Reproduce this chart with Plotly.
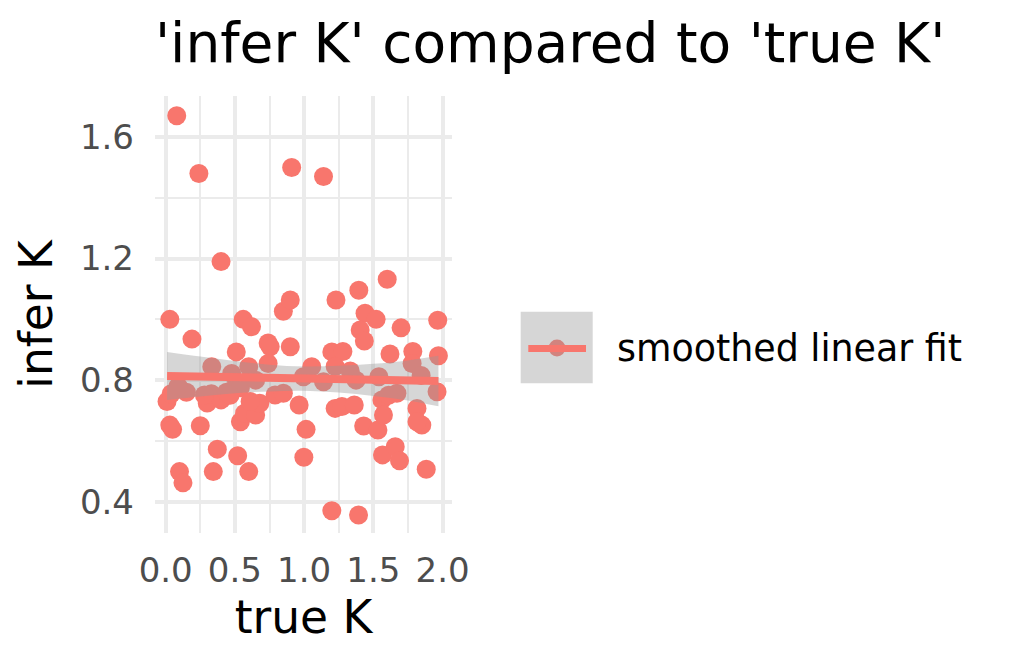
import plotly.graph_objects as go

# ---- data ----
true_k = [0.08, 0.24, 0.91, 1.14, 0.40, 0.03, 0.19, 0.56, 0.62, 0.85,
          0.90, 0.51, 0.74, 0.755, 0.90, 0.74, 1.23, 1.395, 1.60, 1.44,
          1.52, 1.405, 1.435, 1.70, 1.965, 1.97, 1.62, 1.785, 1.20, 1.28,
          1.055, 0.333, 0.60, 0.477, 1.224, 1.333, 1.78, 1.845, 1.54, 0.995,
          1.14, 1.375, 0.01, 0.04, 0.03, 0.05, 0.10, 0.125, 0.15, 0.09,
          0.25, 0.30, 0.33, 0.40, 0.44, 0.373, 0.344, 0.52, 0.48, 0.54,
          0.54, 0.57, 0.65, 0.60, 0.65, 0.68, 0.79, 0.85, 0.964, 0.998,
          1.014, 1.224, 1.273, 1.20, 1.362, 1.393, 1.43, 1.533, 1.562, 1.573,
          1.566, 1.658, 1.689, 1.67, 1.815, 1.85, 1.815, 1.882, 1.96, 0.61,
          0.465, 1.61, 0.28]
infer_k = [1.67, 1.48, 1.50, 1.47, 1.19, 1.00, 0.935, 1.00, 0.976, 1.027,
           1.064, 0.893, 0.922, 0.91, 0.91, 0.855, 1.064, 1.096, 1.132, 1.02,
           1.00, 0.965, 0.929, 0.972, 0.997, 0.88, 0.886, 0.894, 0.893, 0.894,
           0.844, 0.844, 0.844, 0.822, 0.845, 0.83, 0.855, 0.815, 0.811, 0.811,
           0.795, 0.80, 0.73, 0.755, 0.652, 0.638, 0.499, 0.462, 0.76, 0.78,
           0.65, 0.725, 0.755, 0.735, 0.76, 0.573, 0.499, 0.551, 0.767, 0.775,
           0.663, 0.691, 0.685, 0.499, 0.80, 0.724, 0.751, 0.757, 0.718, 0.546,
           0.638, 0.707, 0.713, 0.370, 0.718, 0.356, 0.649, 0.636, 0.735, 0.685,
           0.554, 0.581, 0.535, 0.757, 0.707, 0.652, 0.663, 0.507, 0.762, 0.73,
           0.75, 0.75, 0.751]

# smoothed linear fit and its confidence band
fit_x = [0.01, 0.25, 0.5, 0.75, 1.0, 1.25, 1.5, 1.75, 1.97]
fit_mean = [0.814, 0.812, 0.810, 0.807, 0.805, 0.803, 0.801, 0.799, 0.797]
fit_lower = [0.735, 0.746, 0.757, 0.763, 0.765, 0.759, 0.748, 0.733, 0.714]
fit_upper = [0.893, 0.878, 0.863, 0.851, 0.845, 0.847, 0.854, 0.865, 0.880]

x_ticks = [0.0, 0.5, 1.0, 1.5, 2.0]
x_labels = ["0.0", "0.5", "1.0", "1.5", "2.0"]
y_ticks = [0.4, 0.8, 1.2, 1.6]
y_labels = ["0.4", "0.8", "1.2", "1.6"]

POINT = "#F8766D"
RIBBON = "rgba(153,153,153,0.4)"
GRID = "#EBEBEB"
FONT = "DejaVu Sans"

W, H = 1009, 665
ML, MR, MT, MB = 155, 557, 96, 132
PW, PH = W - ML - MR, H - MT - MB


def px_x(p):
    return (p - ML) / PW


def px_y(p):
    return (H - MB - p) / PH


fig = go.Figure()
fig.add_trace(go.Scatter(x=true_k, y=infer_k, mode="markers",
                         marker=dict(color=POINT, size=19, line=dict(width=0)),
                         showlegend=False, hoverinfo="x+y"))
fig.add_trace(go.Scatter(x=fit_x, y=fit_upper, mode="lines", line=dict(width=0, shape="spline"),
                         showlegend=False, hoverinfo="skip"))
fig.add_trace(go.Scatter(x=fit_x, y=fit_lower, mode="lines", line=dict(width=0, shape="spline"),
                         fill="tonexty", fillcolor=RIBBON, showlegend=False, hoverinfo="skip"))
fig.add_trace(go.Scatter(x=fit_x, y=fit_mean, mode="lines", line=dict(color=POINT, width=8),
                         name="smoothed linear fit", showlegend=False))

# legend drawn by hand (key box + point + line + label)
shapes = [
    dict(type="circle", xref="paper", yref="paper",
         x0=px_x(548.6), x1=px_x(565.4), y0=px_y(356.4), y1=px_y(339.6),
         fillcolor=POINT, line=dict(width=0), layer="above"),
    dict(type="rect", xref="paper", yref="paper",
         x0=px_x(520.7), x1=px_x(592.7), y0=px_y(383.3), y1=px_y(311.7),
         fillcolor=RIBBON, line=dict(width=0), layer="above"),
    dict(type="line", xref="paper", yref="paper",
         x0=px_x(528.3), x1=px_x(586), y0=px_y(348.5), y1=px_y(348.5),
         line=dict(color=POINT, width=7), layer="above"),
]

fig.update_layout(
    width=W, height=H,
    margin=dict(l=ML, r=MR, t=MT, b=MB, pad=0),
    paper_bgcolor="white", plot_bgcolor="white",
    font=dict(family=FONT, color="black"),
    title=dict(text="'infer K' compared to 'true K'", font=dict(size=55, color="black", family=FONT),
               x=0, xref="paper", xanchor="left", y=1 - 43 / H, yref="container", yanchor="middle"),
    shapes=shapes,
    annotations=[dict(text="smoothed linear fit", xref="paper", yref="paper",
                      x=px_x(615), y=px_y(348), xanchor="left", yanchor="middle",
                      showarrow=False, font=dict(size=36.4, color="black", family=FONT))],
    showlegend=False,
)
fig.update_xaxes(range=[-0.077, 2.068], tickvals=x_ticks, ticktext=x_labels,
                 showgrid=True, gridcolor=GRID, gridwidth=4, zeroline=False, showline=False,
                 ticks="", ticklabelstandoff=14,
                 tickfont=dict(size=34, color="#4D4D4D", family=FONT),
                 minor=dict(tickvals=[0.25, 0.75, 1.25, 1.75], showgrid=True, gridcolor=GRID, gridwidth=2),
                 title=dict(text="true K", font=dict(size=45.5, color="black", family=FONT), standoff=12))
fig.update_yaxes(range=[0.297, 1.735], tickvals=y_ticks, ticktext=y_labels,
                 showgrid=True, gridcolor=GRID, gridwidth=4, zeroline=False, showline=False,
                 ticks="", ticklabelstandoff=20,
                 tickfont=dict(size=34, color="#4D4D4D", family=FONT),
                 minor=dict(tickvals=[0.6, 1.0, 1.4], showgrid=True, gridcolor=GRID, gridwidth=2),
                 title=dict(text="infer K", font=dict(size=45.5, color="black", family=FONT), standoff=12))

fig.write_html("out.html")
